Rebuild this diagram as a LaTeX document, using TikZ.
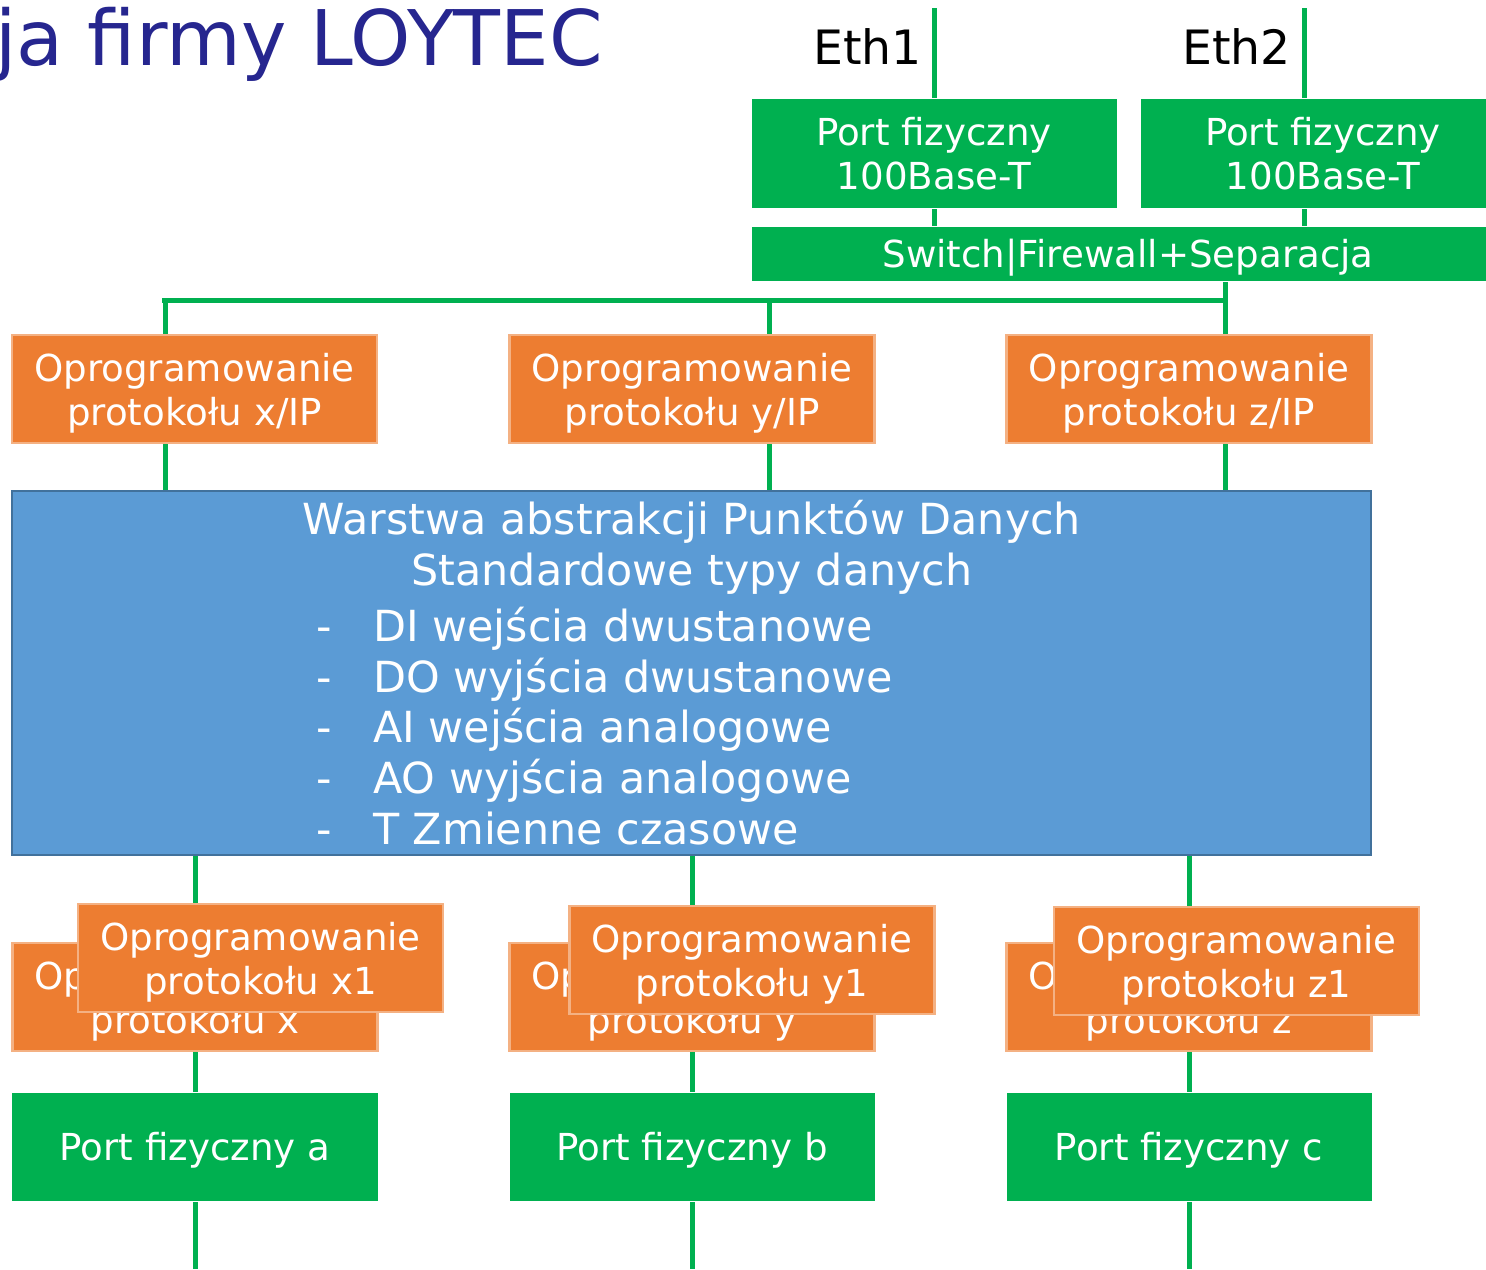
\documentclass[tikz,border=0pt]{standalone}
\usepackage{fontspec}
\setmainfont{DejaVu Sans}
\usetikzlibrary{backgrounds}
\definecolor{gr}{RGB}{0,176,80}
\definecolor{orf}{RGB}{237,125,49}
\definecolor{orb}{RGB}{244,177,131}
\definecolor{blf}{RGB}{91,155,213}
\definecolor{blb}{RGB}{65,113,156}
\definecolor{tb}{RGB}{38,38,143}
\tikzset{
 pbox/.style={rectangle, inner sep=0pt, align=center, text=white, text depth=0pt, font=\fontsize{37.3}{44}\selectfont},
 greenbox/.style={pbox, fill=gr, draw=white, line width=1bp, minimum width=366bp, minimum height=109bp},
 orangebox/.style={pbox, fill=orf, draw=orb, line width=2.5bp, minimum width=365bp, minimum height=108bp},
 bluebox/.style={rectangle, fill=blf, draw=blb, line width=2bp},
 wire/.style={draw=gr, line width=5bp},
 ethlabel/.style={inner sep=0pt, text=black, font=\fontsize{47.5}{50}\selectfont},
 bluetext/.style={inner sep=0pt, text=white, font=\fontsize{43}{51}\selectfont},
}
\newcommand{\dashitem}[1]{\makebox[57bp][l]{-}#1}
\begin{document}
\begin{tikzpicture}[x=1bp,y=-1bp]
\useasboundingbox (0,0) rectangle (1486,1269);
\clip (0,0) rectangle (1486,1269);
% title
\node[anchor=base east, inner sep=0pt, text=tb, font=\fontsize{77}{80}\selectfont] (title) at (603,65) {ja firmy LOYTEC};
% Eth labels
\node[ethlabel] (eth1) at (867.5,47) {Eth1};
\node[ethlabel] (eth2) at (1236.5,47) {Eth2};
% top ports
\node[greenbox, minimum height=110bp] (p1) at (934,153) {Port fizyczny\\100Base-T};
\node[greenbox, minimum height=110bp] (p2) at (1323,153) {Port fizyczny\\100Base-T};
\node[greenbox, minimum width=754bp, minimum height=55bp] (sw) at (1128,253.5) {Switch|Firewall+Separacja};
% top protocol boxes
\node[orangebox] (ox) at (194.5,389) {Oprogramowanie\\protokołu x/IP};
\node[orangebox] (oy) at (692,389) {Oprogramowanie\\protokołu y/IP};
\node[orangebox] (oz) at (1189,389) {Oprogramowanie\\protokołu z/IP};
% data point abstraction layer
\node[bluebox, minimum width=1359bp, minimum height=364bp] (dal) at (691.5,673) {};
\node[bluetext, align=center] (dalt) at (692,547.5) {Warstwa abstrakcji Punktów Danych\\Standardowe typy danych};
\node[bluetext, align=left, anchor=west] (dall) at (316,726) {\dashitem{DI wejścia dwustanowe}\\\dashitem{DO wyjścia dwustanowe}\\\dashitem{AI wejścia analogowe}\\\dashitem{AO wyjścia analogowe}\\\dashitem{T Zmienne czasowe}};
% lower protocol boxes (back)
\node[orangebox] (bx) at (195,997) {Oprogramowanie\\protokołu x};
\node[orangebox] (by) at (692,997) {Oprogramowanie\\protokołu y};
\node[orangebox] (bz) at (1189,997) {Oprogramowanie\\protokołu z};
% lower protocol boxes (front)
\node[orangebox] (fx) at (260.5,958) {Oprogramowanie\\protokołu x1};
\node[orangebox] (fy) at (752,960) {Oprogramowanie\\protokołu y1};
\node[orangebox] (fz) at (1236.5,961) {Oprogramowanie\\protokołu z1};
% bottom ports
\node[greenbox] (ga) at (195,1146.5) {Port fizyczny a};
\node[greenbox] (gb) at (692,1146.5) {Port fizyczny b};
\node[greenbox] (gc) at (1189,1146.5) {Port fizyczny c};
% coordinates
\coordinate (e1) at (934,8);
\coordinate (e2) at (1304,8);
\coordinate (bL) at (162,300);
\coordinate (bR) at (1225,300);
\coordinate (bX) at (165,300);
\coordinate (bY) at (769,300);
\coordinate (ea) at (195,1269);
\coordinate (eb) at (692,1269);
\coordinate (ec) at (1189,1269);
\begin{pgfonlayer}{background}
\draw[wire] (e1) -- (e1 |- p1.north);
\draw[wire] (e2) -- (e2 |- p2.north);
\draw[wire] (e1 |- p1.south) -- (e1 |- sw.north);
\draw[wire] (e2 |- p2.south) -- (e2 |- sw.north);
\draw[wire] (bR |- sw.south) -- (bR |- oz.north);
\draw[wire] (bL) -- (bR);
\draw[wire] (bX) -- (bX |- ox.north);
\draw[wire] (bY) -- (bY |- oy.north);
\draw[wire] (bX |- ox.south) -- (bX |- dal.north);
\draw[wire] (bY |- oy.south) -- (bY |- dal.north);
\draw[wire] (bR |- oz.south) -- (bR |- dal.north);
\draw[wire] (bx.north |- dal.south) -- (bx.north);
\draw[wire] (by.north |- dal.south) -- (by.north);
\draw[wire] (bz.north |- dal.south) -- (bz.north);
\draw[wire] (bx.south) -- (ga.north);
\draw[wire] (by.south) -- (gb.north);
\draw[wire] (bz.south) -- (gc.north);
\draw[wire] (ga.south) -- (ea);
\draw[wire] (gb.south) -- (eb);
\draw[wire] (gc.south) -- (ec);
\end{pgfonlayer}
\end{tikzpicture}
\end{document}
